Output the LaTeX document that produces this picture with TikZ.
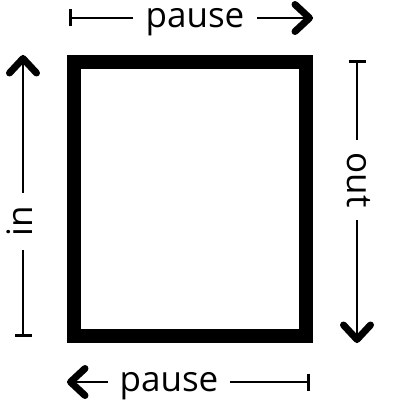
\documentclass[tikz,border=0pt]{standalone}
\usepackage{fontspec}
\setmainfont{Open Sans}
\usetikzlibrary{arrows.meta}
\begin{document}
\begin{tikzpicture}[x=1pt,y=1pt,
  lbl/.style={font=\fontsize{35}{40}\selectfont, inner sep=0pt, text height=19pt, text depth=0pt},
  conn/.style={line width=2.2pt},
  barstart/.style={{Bar[width=17pt,line width=2.7pt]}-},
  chev/.pic={\draw[line width=7pt, line join=round, line cap=round] (-18,13.5) -- (-3.5,0) -- (-18,-13.5);},
  frame/.style={draw, line width=14pt, line join=miter, minimum width=232pt, minimum height=274pt, inner sep=0pt}
]
\useasboundingbox (0,0) rectangle (393,-404);
\node[frame] (box) at (190,-199) {};
% top
\coordinate (tl) at (69,-18);
\coordinate (tr) at (313,-18);
\node[lbl, minimum width=124pt] (ptop) at (195,-18) {pause};
\draw[conn, barstart] (tl) -- (ptop);
\draw[conn] (tr) -- (ptop);
\pic at (tr) {chev};
% bottom
\coordinate (bl) at (67,-382);
\coordinate (br) at (310,-382);
\node[lbl, minimum width=122pt] (pbot) at (169,-382) {pause};
\draw[conn] (bl) -- (pbot);
\pic[rotate=180] at (bl) {chev};
\draw[conn, barstart] (br) -- (pbot);
% left
\coordinate (lt) at (23,-55);
\coordinate (lb) at (23,-337);
\node[lbl, minimum width=57pt, rotate=90] (in) at (23,-221.5) {in};
\draw[conn] (lt) -- (in);
\pic[rotate=90] at (lt) {chev};
\draw[conn, barstart] (lb) -- (in);
% right
\coordinate (rt) at (357,-60);
\coordinate (rb) at (357,-343);
\node[lbl, minimum width=80pt, rotate=-90] (out) at (357,-180) {out};
\draw[conn, barstart] (rt) -- (out);
\draw[conn] (rb) -- (out);
\pic[rotate=-90] at (rb) {chev};
\end{tikzpicture}
\end{document}
